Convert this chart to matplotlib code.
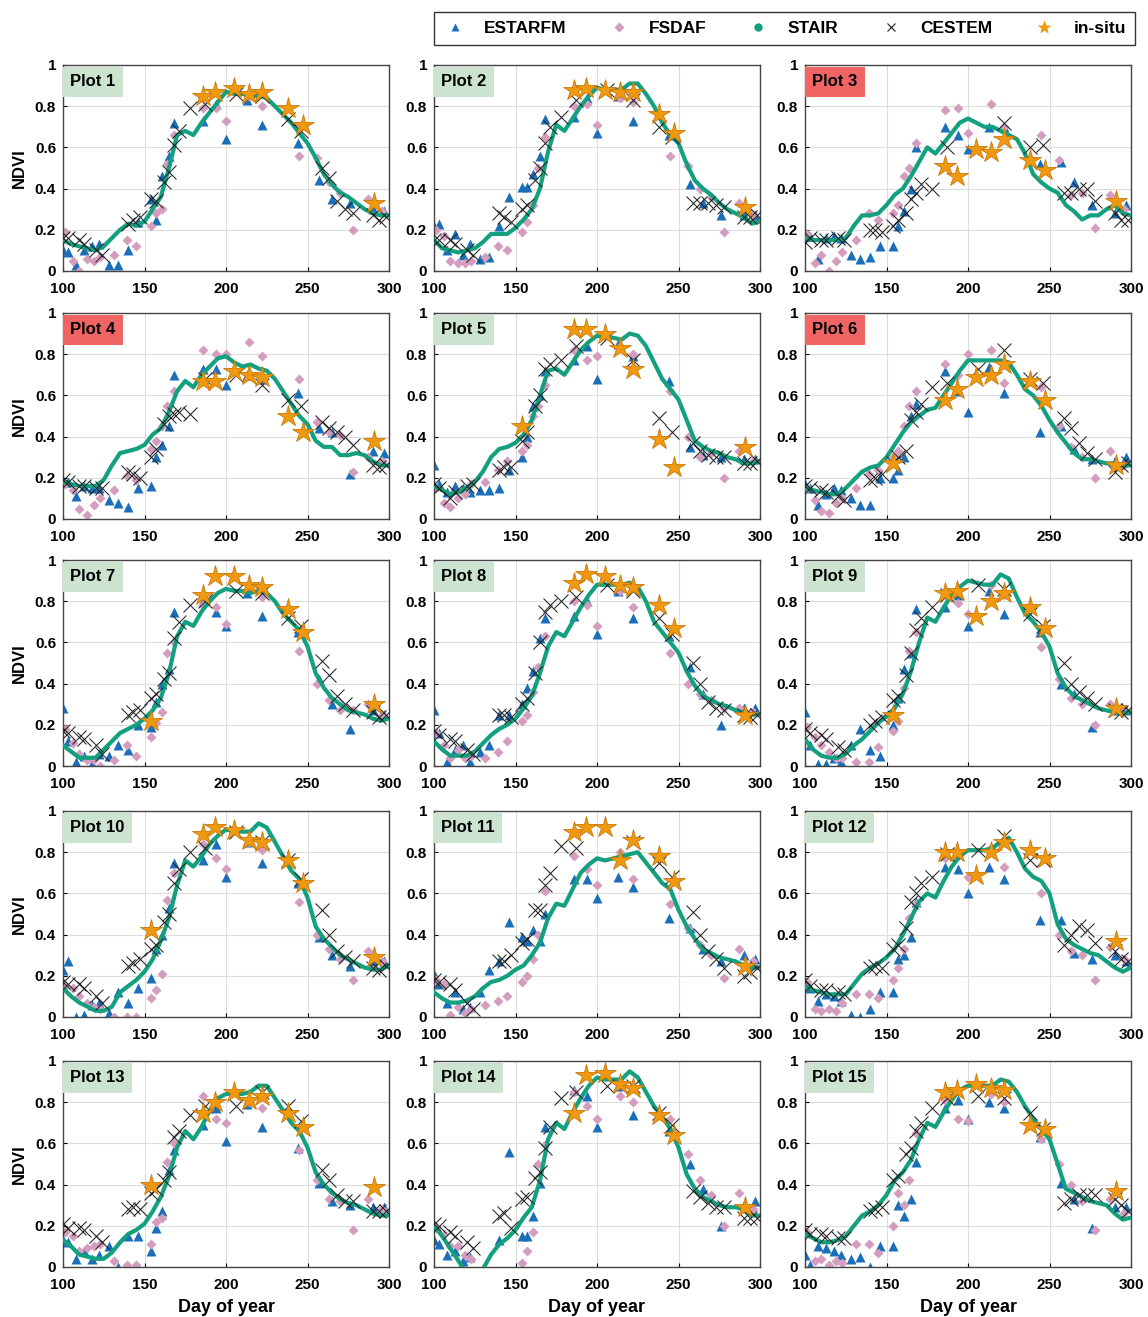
import numpy as np
import matplotlib
matplotlib.use('Agg')
import matplotlib.pyplot as plt
from matplotlib.lines import Line2D

nan = float('nan')

plt.rcParams['font.family'] = ['Liberation Sans', 'DejaVu Sans']
plt.rcParams['font.weight'] = 'bold'

# day-of-year sampling for each product
stair_doy = list(range(100, 301, 5))
estarfm_doy = [100, 103, 108, 113, 118, 122, 128, 134, 140, 146, 154, 157, 161, 165, 168,
               186, 194, 200, 213, 222, 244, 257, 265, 276, 290, 297]
fsdaf_doy = [101, 106, 110, 115, 119, 123, 131, 139, 145, 154, 157, 161, 164, 168,
             186, 194, 200, 214, 222, 245, 256, 263, 270, 278, 287, 296]
cestem_doy = [100, 103, 110, 113, 120, 124, 140, 143, 147, 154, 157, 162, 165, 168, 171,
              178, 187, 206, 222, 238, 246, 259, 263, 268, 273, 278, 290, 294, 298]
insitu_doy = [154, 186, 193, 205, 214, 222, 238, 247, 291]

red_plots = [3, 4, 6]

# NDVI, one row per plot (Plot 1 .. Plot 15)
stair_ndvi = [
    [.15, .13, .12, .11, .10, .12, .16, .20, .23, .22, .24, .30, .36, .50, .66, .68, .66, .72, .77, .82, .87,
     .86, .86, .85, .85, .84, .80, .76, .72, .67, .62, .55, .47, .42, .38, .36, .33, .30, .28, .27, .27],
    [.15, .11, .10, .09, .10, .11, .14, .18, .18, .18, .21, .25, .30, .40, .58, .71, .68, .74, .80, .85, .89,
     .88, .88, .88, .91, .91, .86, .80, .72, .66, .62, .52, .44, .40, .37, .33, .30, .28, .26, .23, .24],
    [.16, .15, .15, .15, .15, .16, .22, .27, .27, .28, .32, .37, .40, .46, .53, .60, .57, .62, .67, .72, .74,
     .72, .70, .70, .68, .66, .64, .57, .47, .43, .40, .38, .32, .29, .25, .27, .27, .30, .32, .28, .27],
    [.18, .17, .16, .16, .16, .19, .26, .32, .33, .34, .36, .41, .44, .52, .62, .67, .64, .70, .74, .78, .79,
     .76, .74, .75, .73, .72, .68, .62, .56, .50, .46, .38, .35, .35, .31, .31, .32, .31, .28, .26, .26],
    [.16, .14, .12, .13, .15, .18, .23, .30, .34, .35, .37, .41, .48, .60, .72, .73, .70, .76, .82, .86, .89,
     .88, .88, .87, .90, .89, .84, .76, .68, .63, .58, .48, .38, .35, .33, .32, .30, .29, .27, .27, .28],
    [.15, .14, .13, .12, .12, .15, .19, .23, .25, .26, .30, .36, .42, .47, .50, .53, .54, .60, .66, .72, .77,
     .77, .77, .77, .77, .76, .70, .63, .60, .55, .48, .42, .37, .32, .29, .29, .28, .27, .27, .26, .26],
    [.10, .07, .04, .04, .04, .08, .12, .16, .18, .20, .23, .27, .33, .45, .63, .70, .68, .75, .80, .84, .86,
     .85, .85, .84, .85, .84, .80, .74, .70, .66, .58, .45, .38, .33, .30, .27, .26, .25, .23, .22, .23],
    [.12, .08, .05, .05, .05, .07, .11, .15, .18, .20, .23, .28, .34, .45, .58, .65, .63, .70, .77, .83, .88,
     .88, .88, .88, .89, .87, .80, .70, .65, .60, .55, .46, .39, .34, .32, .30, .29, .27, .26, .25, .25],
    [.13, .08, .05, .04, .04, .06, .10, .13, .17, .21, .24, .28, .35, .46, .60, .72, .70, .77, .83, .87, .90,
     .89, .88, .88, .93, .91, .82, .74, .70, .65, .58, .45, .38, .34, .32, .30, .28, .27, .26, .26, .26],
    [.14, .10, .07, .05, .03, .03, .05, .12, .15, .18, .22, .28, .37, .48, .64, .76, .73, .78, .84, .88, .91,
     .90, .90, .90, .94, .92, .85, .78, .71, .67, .58, .44, .38, .34, .30, .28, .26, .24, .23, .23, .25],
    [.12, .09, .07, .07, .08, .10, .14, .17, .18, .20, .23, .25, .30, .36, .48, .55, .54, .62, .70, .74, .77,
     .76, .77, .78, .79, .80, .75, .70, .65, .62, .52, .44, .38, .33, .31, .29, .28, .27, .25, .24, .24],
    [.15, .13, .12, .11, .11, .11, .16, .21, .24, .26, .29, .33, .40, .48, .56, .60, .58, .66, .73, .78, .81,
     .81, .81, .82, .85, .87, .80, .72, .68, .66, .60, .45, .38, .35, .33, .31, .30, .27, .24, .22, .24],
    [.13, .10, .06, .05, .04, .04, .07, .12, .16, .18, .21, .27, .34, .44, .58, .66, .62, .68, .76, .82, .84,
     .84, .84, .85, .88, .88, .82, .76, .70, .66, .58, .46, .40, .36, .33, .31, .30, .28, .26, .25, .25],
    [.20, .15, .09, .03, -.03, -.06, -.01, .06, .11, .14, .18, .24, .29, .42, .62, .70, .67, .75, .82, .88, .92,
     .91, .91, .91, .95, .92, .85, .78, .73, .67, .58, .45, .38, .34, .32, .30, .29, .29, .28, .25, .25],
    [.16, .14, .12, .12, .13, .15, .20, .25, .27, .30, .35, .42, .46, .52, .62, .70, .68, .75, .81, .86, .88,
     .88, .88, .88, .91, .90, .85, .78, .72, .67, .62, .50, .38, .36, .34, .32, .31, .30, .26, .23, .24],
]

estarfm_ndvi = [
    [.10, .09, .03, .10, .12, .13, .03, .03, .10, .24, .35, .25, .46, .56, .72, .73, .81, .64, .83, .71, .62, .44, .35, .33, .30, .29],
    [.22, .23, .10, .18, .08, .13, .06, .07, .22, .36, .41, .41, .47, .56, .74, .75, .84, .67, .85, .73, .66, .42, .33, .27, .27, .27],
    [.17, .17, .06, .16, .17, .16, .08, .06, .07, .12, .12, .22, .29, .40, .60, .70, .66, .59, .70, .70, .52, .53, .43, .32, .28, .32],
    [.18, .18, .11, .16, .15, .15, .09, .08, .06, .15, .16, .30, .36, .45, .70, .73, .73, .65, .70, .68, .61, .44, .42, .22, .33, .32],
    [.26, .17, .13, .16, .15, .13, .14, .14, .15, .24, .30, .40, .55, .60, .72, .77, .84, .68, .85, .79, .67, .35, .31, .30, .29, .29],
    [.17, .15, .07, .12, .15, .14, .10, .07, .07, .20, .20, .24, .30, .50, .56, .72, .62, .52, .74, .61, .42, .45, .34, .29, .28, .30],
    [.28, .12, .02, .05, .01, .06, .05, .10, .08, .20, .19, .31, .40, .47, .75, .80, .75, .68, .84, .73, .65, .42, .30, .18, .27, .25],
    [.27, .16, .02, .08, .10, .02, .07, .10, .25, .25, .30, .38, .46, .62, .72, .73, .80, .64, .85, .72, .63, .48, .35, .20, .28, .28],
    [.26, .10, .01, .01, .04, .02, .10, .18, .08, .05, .20, .33, .47, .55, .76, .77, .83, .68, .85, .74, .65, .40, .35, .19, .27, .27],
    [.23, .27, .00, .01, .06, .07, .02, .12, .07, .14, .19, .33, .40, .53, .75, .76, .84, .68, .85, .75, .65, .39, .30, .25, .27, .27],
    [.21, .16, .07, .12, .04, .05, .12, .23, .27, .46, .39, .37, .42, .37, .50, .67, .67, .58, .68, .63, .48, .43, .33, .27, .30, .28],
    [.17, .14, .08, .11, .10, .08, .01, .00, .04, .12, .12, .28, .30, .39, .56, .73, .72, .60, .73, .67, .47, .47, .31, .28, .30, .27],
    [.13, .12, .04, .08, .04, .06, .10, .00, .15, .15, .08, .19, .27, .47, .57, .69, .77, .61, .79, .68, .58, .41, .32, .30, .29, .29],
    [.13, .11, .06, .08, .03, .05, nan, nan, .13, .56, .15, .15, .25, .41, .68, .86, .83, .68, .88, .74, .66, .50, .38, .20, .30, .32],
    [.06, .01, .10, .09, .08, .06, .04, .05, .00, .10, .10, .30, .25, .33, .51, .77, .81, .72, .80, .77, .63, .41, .33, .19, .29, .29],
]

fsdaf_ndvi = [
    [.19, .05, .00, .06, .05, .07, .08, .15, .12, .22, .28, .30, .52, .66, .79, .79, .73, .85, .80, .56, .55, .43, .38, .20, .35, .29],
    [.20, .17, .05, .04, .04, .05, .07, .12, .10, .19, .24, .32, .50, .65, .80, .81, .71, .84, .82, .56, .51, .40, .36, .19, .33, .27],
    [.18, .04, .08, .00, .05, .09, .15, .28, .25, .28, .32, .46, .50, .62, .78, .79, .67, .81, .70, .66, .54, .37, .38, .21, .37, .30],
    [.17, .14, .05, .02, .07, .10, .14, .21, .19, .34, .38, .45, .55, .62, .82, .80, .80, .86, .79, .68, .47, .42, .41, .23, .30, .28],
    [.15, .08, .06, .10, .12, .17, .18, .24, .28, .33, .36, .50, .55, .65, .82, .77, .79, .84, .80, .62, .40, .30, .32, .20, .33, .28],
    [.15, .09, .04, .03, .08, .10, .15, .22, .24, .30, .33, .45, .55, .62, .75, .70, .80, .82, .66, .64, .45, .35, .30, .20, .33, .26],
    [.18, .11, .06, .03, .03, .00, .03, .10, .05, .14, .21, .26, .55, .60, .78, .77, .69, .86, .82, .56, .40, .32, .27, .27, .30, .25],
    [.16, .10, .04, .08, .04, .05, .04, .07, .12, .22, .25, .36, .48, .63, .80, .78, .68, .85, .77, .55, .40, .35, .32, .28, .28, .26],
    [.19, .14, .10, .07, .04, .04, .02, .02, .09, .17, .22, .38, .56, .65, .83, .79, .74, .88, .83, .58, .42, .33, .30, .20, .30, .27],
    [.15, .14, .10, .07, .05, .04, .00, .00, .00, .09, .13, .21, .57, .70, .84, .77, .72, .85, .81, .56, .40, .33, .28, .18, .32, .27],
    [.18, .16, .01, .05, .02, .04, .06, .08, .10, .17, .20, .28, .40, .61, .78, .72, .64, .80, .67, .55, .43, .35, .30, .19, .33, .27],
    [.17, .04, .03, .04, .03, .07, .11, .11, .09, .18, .24, .33, .48, .55, .77, .78, .68, .82, .73, .60, .40, .32, .30, .18, .34, .28],
    [.17, .15, .08, .09, .10, .11, .03, .01, .01, .11, .22, .24, .51, .60, .83, .72, .70, .80, .77, .57, .42, .33, .32, .18, .33, .28],
    [.19, .16, .10, .10, .06, .04, nan, nan, nan, .02, .08, .17, .50, .59, .85, .78, .72, .83, .80, .72, .55, .42, .35, .20, .36, .28],
    [.17, .03, .04, .01, .03, .02, .11, .11, .07, .20, .36, .30, .42, .65, .81, .72, .71, .84, .80, .62, .50, .40, .32, .18, .33, .26],
]

cestem_ndvi = [
    [.16, .16, .15, .13, .10, .08, .23, .25, .26, .35, .34, .43, .48, .61, .68, .79, .81, .86, .85, .74, .68, .50, .45, .34, .30, .28, .27, .25, .26],
    [.15, .15, .15, .13, .10, .08, .28, .26, .24, .30, .32, .44, .50, .62, .70, .75, .83, .88, .83, .70, .65, .33, .33, .33, .32, .31, .26, .26, .27],
    [.14, .16, .15, .15, .16, .15, .20, .20, .19, .22, .25, .28, .35, .38, .42, .40, .60, nan, .72, .60, .61, .38, .38, .40, .40, .34, .28, .25, .25],
    [.19, .18, .16, .16, .15, .15, .23, .22, .20, .30, .34, .46, .50, .51, .52, .51, .68, .70, .65, .58, .55, .47, .44, .42, .40, .36, .26, .25, .26],
    [.17, .15, .10, .13, .16, .17, .24, .25, .25, .38, .42, .55, .60, .73, .75, .77, .84, .88, .77, .49, .42, .37, .33, .31, .30, .30, .27, .27, .28],
    [.16, .15, .14, .13, .11, .09, .19, .20, .22, .27, .30, .33, .48, .52, .56, .64, .66, .73, .82, .68, .66, .49, .44, .37, .32, .29, .23, .26, .27],
    [.17, .16, .14, .13, .10, .06, .25, .26, .27, .33, .35, .42, .45, .62, .70, .78, .80, .85, .84, .72, .68, .51, .44, .34, .30, .27, .26, .24, .25],
    [.17, .15, .13, .12, .08, .06, .25, .25, .24, .30, .33, .45, .60, .75, .78, .80, .82, .88, .85, .72, .64, .50, .40, .31, .28, .27, .25, .24, .25],
    [.18, .16, .15, .13, .09, .08, .20, .22, .24, .32, .34, .44, .55, .66, .72, .77, .83, .88, .86, .74, .68, .50, .40, .36, .33, .30, .27, .26, .27],
    [.17, .16, .16, .14, .10, .07, .25, .26, .28, .33, .35, .46, .50, .65, .72, .80, .82, .90, .85, .76, .67, .52, .40, .32, .29, .27, .24, .23, .25],
    [.18, .17, .16, .13, .07, .04, .27, .27, .30, .36, .38, .52, .52, .64, .70, .83, .82, nan, .85, .75, .68, .51, .40, .32, .28, .24, .20, .22, .24],
    [.18, .15, .13, .13, .12, .11, .24, .25, .24, .33, .35, .43, .56, .60, .65, .68, .79, .81, .88, .76, .76, .35, .40, .44, .42, .36, .32, .28, .27],
    [.21, .19, .19, .18, .15, .12, .28, .29, .28, .36, .38, .42, .46, .63, .66, .74, .78, .78, .85, .78, .71, .47, .42, .35, .32, .32, .27, .27, .27],
    [.21, .20, .17, .15, .12, .09, .25, .26, .19, .33, .34, .43, .46, .58, .68, .82, .85, .88, .88, .75, .69, .37, .34, .31, .29, .29, .24, .24, .24],
    [.18, .16, .16, .15, .14, .14, .27, .28, .29, .42, .44, .55, .58, .66, .70, .77, .82, .83, .82, .75, .67, .31, .33, .35, .35, .35, .33, .30, .27],
]

insitu_ndvi = [
    [nan, .85, .87, .89, .86, .87, .79, .71, .33],
    [nan, .88, .89, .88, .87, .87, .76, .67, .31],
    [nan, .51, .46, .59, .58, .64, .54, .49, .34],
    [nan, .67, .67, .72, .70, .69, .50, .42, .38],
    [.45, .92, .92, .90, .83, .73, .39, .25, .35],
    [.27, .58, .63, .69, .70, .75, .67, .58, .26],
    [.22, .83, .92, .92, .88, .87, .76, .65, .30],
    [nan, .89, .93, .92, .88, .87, .78, .67, .25],
    [.25, .84, .85, .73, .80, .84, .77, .67, .28],
    [.42, .89, .92, .91, .86, .85, .76, .65, .29],
    [nan, .90, .92, .92, .76, .86, .78, .66, .25],
    [nan, .80, .80, .69, .80, .85, .81, .77, .37],
    [.40, .75, .80, .85, .81, .83, .75, .68, .39],
    [nan, .75, .93, .94, .89, .87, .74, .64, .29],
    [nan, .85, .86, .89, .87, .86, .69, .67, .37],
]

c_blue = '#1A6FB8'
c_pink = '#D49DBE'
c_green = '#13A07F'
c_orange = '#F0990F'

fig = plt.figure(figsize=(11.48, 13.17), dpi=100)
W, H = 1148, 1317
col_left = [63, 434, 805]
row_top = [65, 313, 560, 811, 1061]
aw, ah = 326, 206

for i in range(15):
    r, c = i // 3, i % 3
    ax = fig.add_axes([col_left[c] / W, 1 - (row_top[r] + ah) / H, aw / W, ah / H])
    ax.plot(estarfm_doy, estarfm_ndvi[i], '^', color=c_blue, ms=6.5, mec='none', zorder=2)
    ax.plot(fsdaf_doy, fsdaf_ndvi[i], 'D', color=c_pink, ms=4.8, mec='none', zorder=2)
    ax.plot(stair_doy, stair_ndvi[i], '-', color=c_green, lw=3.0, zorder=3)
    ax.plot(cestem_doy, cestem_ndvi[i], 'x', color='#222222', ms=10, mew=0.75, zorder=4)
    ax.plot(insitu_doy, insitu_ndvi[i], '*', color=c_orange, ms=16, mec='#C9780A', mew=0.6, zorder=5)

    ax.set_xlim(100, 300)
    ax.set_ylim(0, 1)
    ax.set_xticks([100, 150, 200, 250, 300])
    ax.set_yticks([0, 0.2, 0.4, 0.6, 0.8, 1])
    ax.set_yticklabels(['0', '0.2', '0.4', '0.6', '0.8', '1'])
    ax.tick_params(direction='in', length=3, labelsize=11)
    ax.tick_params(axis='x', pad=8)
    ax.tick_params(axis='y', pad=5)
    ax.grid(True, color='#DDDDDD', lw=0.8)
    ax.set_axisbelow(True)
    for s in ax.spines.values():
        s.set_color('#444444')
        s.set_linewidth(1.0)

    box_color = '#F06464' if (i + 1) in red_plots else '#CBE3CF'
    ax.text(0.022, 0.955, f'Plot {i + 1}', transform=ax.transAxes, ha='left', va='top',
            fontsize=12, fontweight='bold',
            bbox=dict(boxstyle='square,pad=0.45', facecolor=box_color, edgecolor='none'))

    if c == 0:
        ax.set_ylabel('NDVI', fontsize=12, fontweight='bold', labelpad=6)
    if r == 4:
        ax.set_xlabel('Day of year', fontsize=13, fontweight='bold', labelpad=5)

handles = [
    Line2D([], [], ls='none', marker='^', color=c_blue, ms=6, mec='none'),
    Line2D([], [], ls='none', marker='D', color=c_pink, ms=5, mec='none'),
    Line2D([], [], ls='none', marker='o', color=c_green, ms=6, mec='none'),
    Line2D([], [], ls='none', marker='x', color='#222222', ms=6, mew=0.8),
    Line2D([], [], ls='none', marker='*', color=c_orange, ms=10, mec='none'),
]
labels = ['ESTARFM', 'FSDAF', 'STAIR', 'CESTEM', 'in-situ']
leg = fig.legend(handles, labels, loc='upper right', bbox_to_anchor=(1135 / W, 1 - 12 / H),
                 borderaxespad=0, ncol=5, fontsize=12.5, frameon=True, fancybox=False,
                 edgecolor='black', handletextpad=1.0, columnspacing=2.3, borderpad=0.5,
                 handlelength=1.4)
leg.get_frame().set_linewidth(1.0)
for t in leg.get_texts():
    t.set_fontweight('bold')

fig.savefig('out.png', dpi=100)
